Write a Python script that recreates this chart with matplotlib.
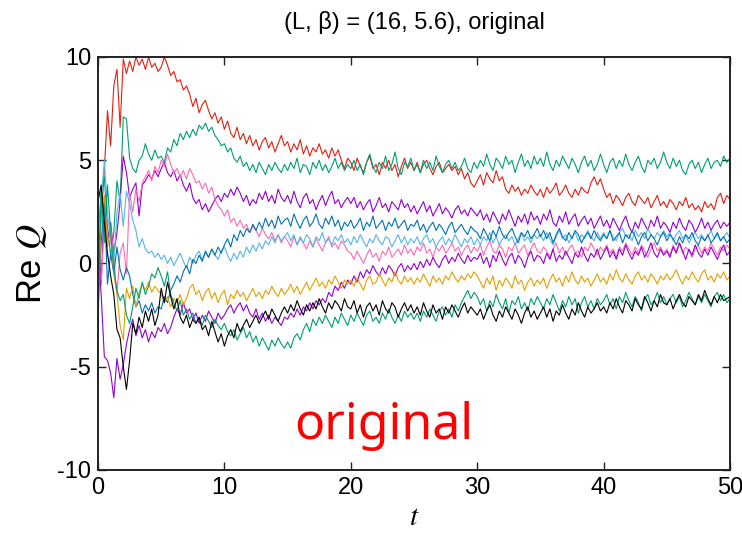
import numpy as np
import matplotlib
matplotlib.use("Agg")
import matplotlib.pyplot as plt

plt.rcParams['font.family'] = ['Liberation Sans', 'DejaVu Sans']
plt.rcParams['mathtext.fontset'] = 'stix'
plt.rcParams['axes.unicode_minus'] = False

title = "(L, \u03b2) = (16, 5.6), original"
x_label = "$t$"
y_label = "Re $Q$"
annotation = "original"
x_ticks = [0, 10, 20, 30, 40, 50]
y_ticks = [-10, -5, 0, 5, 10]

t_start, t_end = 0, 50

red = [0.5, 2.2, 4.5, 7.4, 5.7, 8.6, 9.4, 6.6, 9.9, 9.2, 9.8, 9.3, 10.0, 9.6, 9.9, 9.4, 10.0, 9.5, 9.7, 9.3,
       9.5, 10.0, 9.6, 9.1, 9.3, 8.8, 8.9, 8.4, 8.6, 8.2, 7.6, 8.0, 7.3, 7.7, 7.9, 7.4, 7.0, 7.3, 6.8, 7.1,
       6.5, 6.9, 6.3, 6.1, 6.6, 6.0, 6.3, 5.8, 6.2, 5.7, 6.0, 5.5, 5.9, 6.1, 5.6, 5.9, 5.4, 5.8, 6.2, 5.7,
       5.9, 5.4, 5.8, 5.5, 6.0, 5.3, 5.7, 5.2, 5.6, 5.4, 5.8, 5.3, 5.5, 5.1, 5.6, 5.2, 5.5, 5.0, 4.6, 5.1,
       4.9, 4.5, 5.1, 4.7, 4.4, 4.9, 5.2, 4.6, 4.8, 4.3, 4.9, 4.6, 5.0, 4.5, 4.8, 4.2, 4.7, 5.1, 4.6, 4.9,
       4.5, 4.9, 4.4, 4.8, 5.0, 4.6, 4.3, 4.7, 4.9, 4.4, 4.6, 4.8, 4.5, 4.7, 4.3, 4.6, 4.1, 4.4, 3.9, 3.7,
       4.0, 4.3, 3.8, 4.4, 4.1, 3.9, 4.5, 4.0, 4.2, 3.6, 3.4, 3.8, 3.5, 3.7, 3.3, 3.6, 3.4, 3.8, 3.5, 3.3,
       3.6, 3.2, 3.7, 3.4, 3.6, 3.9, 3.3, 3.5, 3.8, 3.4, 3.2, 3.6, 3.3, 3.7, 3.5, 3.4, 3.9, 4.2, 3.8, 4.1,
       3.6, 3.2, 3.4, 2.9, 3.3, 3.1, 2.8, 3.2, 3.4, 3.0, 2.8, 3.3, 3.1, 2.9, 3.2, 2.7, 3.0, 3.3, 2.8, 3.0,
       2.7, 3.1, 2.9, 2.6, 3.0, 2.8, 3.2, 2.7, 2.9, 2.6, 2.8, 2.5, 3.0, 2.7, 2.9, 2.6, 3.2, 3.4, 2.9, 3.3, 3.1]

green_upper = [1.0, 3.5, 4.2, 1.8, 0.4, 1.5, 4.0, 3.0, 7.1, 7.0, 5.1, 4.6, 4.4, 5.0, 5.2, 5.8, 5.3, 5.0, 5.5, 5.1,
               5.2, 4.9, 5.6, 5.4, 6.0, 5.7, 6.3, 6.0, 6.4, 6.1, 6.5, 6.2, 6.7, 6.5, 6.8, 6.4, 6.6, 6.2, 6.0, 5.7,
               5.8, 5.4, 5.6, 5.1, 4.9, 5.2, 4.7, 4.9, 4.5, 4.8, 4.4, 4.9, 4.6, 4.3, 4.8, 4.5, 4.9, 4.6, 4.4, 4.8,
               4.5, 4.9, 4.6, 5.1, 4.4, 4.8, 4.7, 4.3, 4.9, 4.6, 5.0, 4.5, 4.8, 4.4, 4.7, 5.1, 4.6, 4.9, 4.5, 4.8,
               4.6, 5.0, 4.5, 4.8, 4.3, 4.9, 5.3, 4.7, 4.4, 4.9, 4.6, 5.2, 4.5, 4.8, 5.4, 4.6, 4.3, 4.9, 4.7, 5.1,
               4.5, 4.8, 4.4, 5.0, 4.6, 4.9, 4.5, 5.2, 4.7, 4.4, 4.8, 5.0, 4.6, 4.9, 4.5, 4.7, 5.1, 4.6, 4.4, 4.9,
               4.6, 5.0, 4.7, 5.3, 4.8, 4.5, 5.1, 4.9, 4.6, 5.2, 4.8, 5.0, 4.4, 4.9, 5.3, 4.7, 5.0, 4.6, 5.2, 4.8,
               5.1, 4.7, 5.4, 4.8, 4.5, 5.0, 4.7, 5.2, 4.9, 4.6, 5.1, 4.8, 4.4, 4.9, 5.2, 4.7, 5.0, 4.5, 4.8, 5.3,
               4.8, 4.4, 4.9, 5.1, 4.6, 5.0, 4.7, 5.3, 4.8, 4.5, 4.9, 5.2, 4.7, 4.4, 5.0, 4.8, 5.1, 4.6, 4.9, 5.4,
               4.9, 4.6, 5.1, 4.7, 5.0, 4.5, 4.3, 4.8, 5.0, 4.6, 4.9, 4.4, 4.8, 5.1, 4.6, 4.9, 5.0, 4.7, 5.2, 4.9, 5.1]

purple_upper = [2.0, -1.0, 3.0, 1.0, 2.0, 0.5, 1.5, 3.0, 5.2, 4.4, 3.2, 3.6, 3.9, 2.3, 3.8, 4.0, 4.3, 4.1, 4.5, 4.2,
                4.6, 4.9, 4.4, 4.2, 4.5, 4.0, 4.3, 3.8, 3.5, 3.9, 3.2, 2.9, 3.1, 2.6, 2.9, 2.5, 2.8, 3.1, 3.3, 3.0,
                3.4, 3.2, 3.6, 3.3, 3.7, 3.4, 3.0, 3.3, 2.8, 3.1, 2.9, 3.4, 3.1, 3.5, 3.0, 3.3, 2.9, 3.6, 3.2, 3.0,
                3.3, 2.9, 3.5, 3.0, 2.7, 3.2, 3.4, 2.9, 3.1, 2.6, 3.0, 3.3, 2.8, 3.2, 3.5, 2.9, 3.1, 2.7, 3.0, 3.2,
                2.9, 3.2, 2.7, 3.0, 2.6, 2.9, 3.1, 2.5, 2.8, 3.2, 2.7, 2.9, 2.5, 3.0, 2.8, 2.6, 3.1, 2.7, 2.9, 2.5,
                2.8, 2.4, 2.7, 3.0, 2.5, 2.8, 2.3, 2.6, 2.9, 2.4, 2.7, 2.5, 2.2, 2.6, 2.8, 2.4, 2.6, 2.3, 2.7, 2.5,
                2.3, 2.6, 2.1, 2.4, 2.0, 2.5, 2.2, 1.9, 2.4, 2.1, 2.6, 2.2, 1.8, 2.3, 2.0, 2.4, 1.9, 2.5, 2.1, 2.3,
                1.9, 2.4, 2.1, 2.6, 2.0, 1.8, 2.3, 2.0, 2.5, 1.9, 2.2, 2.4, 1.8, 2.1, 2.3, 1.9, 2.2, 1.7, 2.0, 2.3,
                1.8, 2.1, 1.7, 2.2, 1.9, 1.6, 2.0, 2.3, 1.8, 1.5, 2.0, 1.7, 2.2, 1.9, 1.6, 2.1, 1.8, 2.3, 1.7, 2.0,
                1.8, 1.5, 2.0, 1.7, 2.2, 1.8, 1.6, 2.1, 1.9, 1.5, 1.8, 2.2, 1.7, 2.0, 1.6, 1.9, 2.1, 1.7, 2.0, 1.8, 2.0]

pink = [0.5, -1.0, 2.0, 0.8, 1.8, 0.3, -1.5, 0.5, 1.0, -0.5, 3.4, 2.5, 3.6, 3.0, 3.9, 4.2, 4.5, 4.0, 4.7, 4.4,
        5.0, 4.7, 5.3, 4.8, 4.4, 4.6, 4.2, 4.5, 4.1, 4.6, 4.3, 3.9, 4.0, 3.6, 3.9, 3.4, 3.7, 3.1, 2.8, 2.6,
        2.3, 2.6, 2.0, 2.2, 1.8, 2.1, 1.7, 1.9, 1.5, 1.8, 1.6, 1.3, 1.7, 1.4, 1.2, 1.5, 1.1, 1.4, 1.0, 1.3,
        1.1, 0.8, 1.3, 0.9, 1.2, 1.0, 0.7, 1.1, 0.8, 1.2, 0.9, 0.6, 1.0, 1.3, 0.8, 1.0, 0.7, 1.1, 0.9, 0.6,
        0.5, 0.2, 0.6, 0.3, 0.0, 0.4, 0.7, 0.3, 0.5, 0.1, 0.6, 0.4, 0.8, 0.3, 0.5, 0.7, 0.4, 0.9, 0.5, 0.7,
        0.4, 0.8, 0.6, 1.0, 0.5, 0.7, 0.3, 0.8, 0.6, 0.9, 0.5, 0.7, 1.0, 0.6, 0.8, 0.4, 0.7, 0.9, 0.5, 0.8,
        0.6, 0.9, 0.4, 0.8, 1.1, 0.6, 0.5, 0.9, 0.7, 0.3, 0.8, 0.6, 1.0, 0.5, 0.7, 0.9, 0.4, 0.7, 1.0, 0.6,
        0.5, 0.8, 0.6, 0.3, 0.7, 1.0, 0.5, 0.8, 0.4, 0.7, 0.9, 0.5, 0.6, 0.3, 0.8, 0.6, 1.0, 0.7, 0.4, 0.8,
        0.6, 0.9, 0.5, 0.7, 0.3, 0.8, 0.6, 1.0, 0.7, 0.4, 0.8, 0.5, 0.9, 0.6, 0.3, 0.7, 1.0, 0.6, 0.8, 0.5,
        0.7, 0.4, 0.9, 0.6, 1.0, 0.5, 0.8, 0.6, 0.3, 0.7, 0.9, 0.5, 0.8, 0.6, 1.0, 0.7, 0.4, 0.8, 0.6, 0.9, 0.7]

light_blue = [1.0, 3.0, 5.0, 2.5, 1.1, 0.0, 2.5, 3.4, 1.8, 3.5, 2.9, 2.1, 1.6, 0.8, 1.2, 0.7, 0.5, 0.6, 0.3, 0.5,
              0.2, 0.4, 0.0, 0.3, -0.1, 0.2, 0.5, 0.1, -0.2, 0.3, 0.0, 0.4, 0.6, 0.2, 0.5, 0.3, 0.7, 0.4, 0.2, 0.6,
              0.8, 0.4, 0.1, 0.5, 0.2, 0.6, 0.3, 0.8, 0.5, 0.9, 0.6, 1.0, 0.7, 1.1, 0.9, 1.3, 1.0, 1.4, 1.1, 1.3,
              1.5, 1.1, 1.4, 0.9, 1.3, 1.0, 1.4, 1.2, 0.8, 1.3, 1.1, 1.5, 1.0, 1.2, 0.9, 1.3, 1.1, 1.4, 1.0, 1.2,
              0.9, 1.3, 1.0, 1.4, 1.1, 0.8, 1.2, 1.0, 1.4, 1.1, 0.9, 1.3, 1.2, 0.8, 1.1, 1.4, 1.0, 1.3, 0.9, 1.2,
              1.0, 1.3, 0.9, 1.2, 1.4, 1.0, 1.2, 0.8, 1.1, 1.3, 0.9, 1.2, 1.0, 1.4, 1.1, 0.8, 1.2, 1.0, 1.3, 0.9,
              1.2, 0.9, 1.3, 1.1, 1.5, 1.0, 1.3, 0.9, 1.2, 1.4, 1.1, 1.3, 0.9, 1.2, 1.5, 1.1, 1.3, 1.0, 1.4, 1.2,
              1.4, 1.1, 1.5, 1.2, 0.9, 1.3, 1.6, 1.2, 1.4, 1.0, 1.3, 1.5, 1.1, 1.4, 1.2, 1.6, 1.3, 1.1, 1.5, 1.2,
              1.5, 1.2, 1.6, 1.3, 1.1, 1.5, 1.7, 1.3, 1.4, 1.1, 1.6, 1.3, 1.5, 1.2, 1.7, 1.4, 1.2, 1.5, 1.3, 1.6,
              1.3, 1.5, 1.1, 1.4, 1.6, 1.2, 1.4, 1.0, 1.3, 1.5, 1.2, 1.4, 1.1, 1.3, 1.6, 1.2, 1.4, 1.1, 1.3, 1.5, 1.2]

blue = [-2.0, 1.0, 3.0, -1.0, 0.5, -0.5, 0.8, -0.3, -0.8, -0.2, -0.6, -1.5, -2.1, -1.8, -2.4, -2.0, -2.3, -1.9, -2.4, -2.1,
        -2.2, -1.6, -1.9, -1.3, -1.0, -0.6, -0.9, -0.4, -0.1, -0.5, 0.2, 0.0, 0.4, 0.1, 0.6, 0.3, 0.7, 0.4, 0.8, 0.5,
        0.9, 1.2, 0.8, 1.4, 1.1, 1.6, 1.3, 1.7, 1.5, 1.9, 1.6, 2.0, 1.7, 2.2, 1.8, 2.1, 1.7, 2.3, 1.9, 2.1,
        2.2, 1.8, 2.4, 2.0, 1.7, 2.1, 2.3, 1.8, 2.0, 2.4, 1.9, 1.7, 2.2, 1.9, 2.3, 1.8, 2.1, 1.6, 2.0, 1.8,
        2.1, 1.7, 1.9, 2.2, 1.6, 2.0, 1.8, 2.3, 1.7, 1.9, 2.1, 1.6, 2.0, 1.8, 2.2, 1.7, 1.9, 2.1, 1.6, 1.9,
        1.8, 2.1, 1.6, 1.9, 1.5, 1.8, 2.0, 1.6, 1.9, 1.7, 1.4, 1.8, 2.0, 1.5, 1.7, 1.9, 1.6, 1.4, 1.8, 1.6,
        1.5, 1.2, 1.7, 1.4, 1.1, 1.6, 1.3, 1.8, 1.4, 1.2, 1.5, 1.7, 1.3, 1.0, 1.5, 1.3, 1.6, 1.2, 1.4, 1.7,
        1.3, 1.6, 1.2, 1.5, 1.0, 1.4, 1.7, 1.3, 1.1, 1.5, 1.2, 1.6, 1.4, 1.0, 1.3, 1.5, 1.2, 1.6, 1.3, 1.1,
        1.4, 1.2, 1.6, 1.1, 1.3, 1.5, 1.0, 1.4, 1.2, 1.6, 1.3, 0.9, 1.3, 1.5, 1.1, 1.4, 1.2, 0.9, 1.3, 1.5,
        1.1, 1.4, 1.2, 0.9, 1.3, 1.0, 1.4, 1.2, 1.5, 1.1, 0.9, 1.3, 1.1, 1.4, 1.0, 1.2, 1.5, 1.1, 1.3, 1.0, 1.2]

purple_lower = [0.8, -1.5, -4.5, -4.7, -5.3, -6.5, -4.6, -5.6, -4.9, -3.9, -3.2, -2.7, -3.5, -3.0, -3.6, -3.2, -3.8, -3.3, -3.6, -3.1,
                -3.3, -2.9, -3.4, -3.1, -2.6, -2.2, -2.5, -1.9, -2.4, -2.2, -2.7, -2.4, -2.9, -2.5, -2.8, -2.3, -2.6, -2.9, -2.4, -2.7,
                -2.5, -2.2, -2.0, -2.4, -2.1, -1.9, -2.3, -2.0, -2.4, -2.6, -2.2, -2.7, -2.4, -2.8, -2.5, -2.9, -2.6, -2.8, -3.0, -2.6,
                -2.7, -2.4, -2.6, -2.2, -2.5, -2.1, -2.3, -1.9, -2.2, -1.8, -2.0, -1.7, -1.9, -1.4, -1.6, -1.1, -1.3, -0.9, -1.2, -0.8,
                -1.0, -0.6, -0.9, -0.4, -0.7, -0.3, -0.5, -0.1, -0.4, -0.6, -0.2, -0.5, -0.1, -0.3, -0.6, -0.2, 0.0, -0.4, -0.1, -0.3,
                0.0, -0.3, 0.1, -0.2, 0.2, -0.1, 0.3, 0.0, -0.2, 0.2, 0.4, 0.0, 0.3, 0.1, 0.5, 0.2, 0.0, 0.4, 0.1, 0.3,
                0.2, 0.5, 0.0, 0.3, -0.2, 0.4, 0.1, 0.6, 0.2, -0.1, 0.3, 0.5, 0.0, 0.4, 0.2, -0.2, 0.3, 0.6, 0.1, 0.4,
                0.3, 0.0, 0.5, 0.2, 0.7, 0.1, 0.4, 0.2, 0.6, 0.3, 0.0, 0.5, 0.3, 0.8, 0.4, 0.1, 0.5, 0.3, 0.7, 0.2,
                0.5, 0.8, 0.3, 0.6, 0.2, 0.7, 0.4, 0.9, 0.5, 0.2, 0.6, 0.4, 0.8, 0.3, 0.6, 1.0, 0.5, 0.3, 0.7, 0.4,
                0.6, 0.3, 0.8, 0.5, 1.0, 0.6, 0.2, 0.7, 0.4, 0.9, 0.5, 0.3, 0.7, 0.4, 0.8, 0.5, 0.2, 0.6, 0.9, 0.4, 0.6]

orange = [-3.3, 2.6, 3.3, 1.0, 1.5, -0.5, -1.5, -3.0, -3.7, -1.2, -1.7, -1.1, -2.1, -1.4, -1.0, -1.3, -0.9, -1.4, -1.1, -1.3,
          -1.5, -1.9, -1.6, -2.1, -1.7, -1.9, -1.5, -2.0, -1.7, -1.2, -1.0, -1.5, -1.3, -1.8, -1.4, -1.2, -1.7, -1.4, -1.9, -1.5,
          -1.3, -2.0, -1.5, -1.7, -1.3, -1.6, -1.4, -1.8, -1.5, -1.2, -1.6, -1.4, -1.7, -1.3, -1.5, -1.1, -1.4, -1.6, -1.2, -1.5,
          -1.3, -1.0, -1.4, -1.1, -1.5, -1.2, -0.9, -1.3, -1.0, -0.7, -1.1, -0.9, -1.2, -0.8, -1.0, -0.6, -0.9, -1.2, -0.8, -1.0,
          -0.8, -1.1, -0.7, -1.0, -1.3, -0.8, -0.6, -1.0, -0.9, -0.5, -0.8, -1.1, -0.7, -0.9, -0.4, -0.8, -1.0, -0.6, -0.9, -0.7,
          -1.0, -0.7, -0.9, -0.5, -0.8, -1.1, -0.6, -0.9, -0.7, -1.0, -0.6, -0.8, -0.4, -0.7, -0.9, -0.6, -0.8, -0.5, -0.7, -0.4,
          -0.6, -0.9, -1.2, -0.7, -1.0, -0.6, -1.3, -0.8, -1.1, -0.7, -0.9, -1.2, -0.6, -1.0, -0.8, -1.3, -0.9, -0.7, -1.1, -0.8,
          -1.0, -0.7, -1.2, -0.8, -0.5, -0.9, -0.7, -1.1, -0.6, -0.9, -0.4, -0.8, -1.0, -0.6, -0.9, -0.7, -1.1, -0.8, -0.5, -0.9,
          -0.7, -1.0, -0.5, -0.8, -0.3, -0.7, -0.9, -0.5, -0.8, -1.0, -0.6, -0.4, -0.8, -0.6, -0.9, -0.5, -0.7, -1.0, -0.6, -0.8,
          -0.5, -0.8, -0.6, -0.3, -0.7, -1.0, -0.6, -0.8, -0.4, -0.7, -0.9, -0.5, -0.3, -0.8, -0.6, -0.9, -0.5, -0.7, -0.4, -0.8, -0.6]

green_lower = [-2.8, 3.5, 1.0, 3.8, 1.5, -0.3, -1.3, -1.8, -1.5, -2.5, -2.9, -2.1, -1.2, -1.7, -0.9, -1.5, -1.1, -0.5, -0.7, -0.2,
               -0.6, -1.1, -0.4, -1.5, -1.9, -2.3, -1.8, -2.5, -2.2, -2.7, -2.4, -2.9, -2.6, -3.0, -2.5, -2.8, -3.1, -2.7, -3.0, -3.2,
               -2.9, -3.3, -3.5, -3.2, -3.7, -3.4, -3.1, -3.6, -3.3, -3.8, -3.5, -4.0, -3.6, -3.9, -4.2, -3.7, -4.0, -3.6, -3.9, -4.1,
               -3.8, -4.1, -3.6, -3.4, -3.7, -3.2, -2.9, -3.3, -2.7, -3.0, -2.6, -2.9, -2.5, -2.8, -3.1, -2.6, -2.9, -2.4, -2.7, -3.0,
               -2.5, -2.8, -2.4, -2.7, -3.0, -2.5, -2.3, -2.8, -2.6, -2.9, -2.4, -2.7, -2.2, -2.6, -2.9, -2.5, -2.8, -2.3, -2.6, -2.4,
               -2.7, -2.4, -2.8, -2.3, -2.6, -2.2, -2.5, -2.8, -2.3, -2.1, -2.5, -2.2, -2.6, -2.0, -2.3, -1.9, -1.6, -1.3, -1.7, -1.4,
               -1.6, -2.0, -1.7, -2.3, -1.8, -2.1, -1.5, -1.9, -2.2, -1.7, -2.4, -1.8, -2.0, -1.6, -2.2, -1.9, -2.3, -1.7, -2.0, -1.6,
               -1.9, -2.2, -1.7, -2.0, -1.5, -1.9, -2.3, -1.8, -2.1, -1.6, -2.0, -1.7, -2.4, -1.9, -1.6, -2.1, -1.8, -2.2, -1.7, -2.0,
               -1.8, -1.5, -2.0, -1.7, -2.2, -1.6, -1.9, -1.4, -1.8, -2.1, -1.6, -1.9, -2.3, -1.7, -1.5, -2.0, -1.8, -1.4, -1.9, -1.6,
               -2.0, -1.7, -1.5, -1.9, -1.6, -2.1, -1.8, -1.4, -1.7, -2.0, -1.6, -1.9, -1.5, -1.8, -2.1, -1.6, -1.4, -1.8, -1.5, -1.9, -1.7]

black = [3.0, 3.8, 2.0, 0.5, -0.6, -1.5, -3.2, -3.6, -5.0, -6.1, -4.7, -2.9, -3.4, -2.6, -3.1, -2.3, -2.8, -2.2, -3.0, -2.5,
         -1.2, -1.9, -0.9, -1.6, -2.2, -1.7, -2.6, -2.9, -2.5, -3.1, -2.7, -2.9, -2.6, -3.2, -3.0, -3.5, -2.8, -3.3, -3.8, -3.4,
         -4.0, -3.5, -3.2, -3.6, -2.9, -3.3, -3.0, -2.7, -3.1, -2.8, -2.5, -2.9, -2.6, -2.3, -2.7, -2.2, -2.5, -2.8, -2.4, -2.1,
         -2.4, -2.0, -2.3, -1.8, -2.2, -2.5, -2.0, -2.3, -1.9, -2.2, -1.7, -2.1, -2.4, -1.9, -2.2, -1.8, -2.0, -2.3, -1.7, -2.1,
         -2.2, -1.8, -2.4, -2.0, -2.6, -2.1, -1.9, -2.3, -2.0, -2.5, -1.8, -2.2, -2.4, -1.9, -2.1, -2.6, -2.2, -1.9, -2.3, -2.0,
         -2.4, -2.1, -2.5, -1.9, -2.3, -2.6, -2.0, -2.4, -2.2, -2.7, -2.1, -2.4, -2.0, -2.3, -2.6, -2.2, -1.9, -2.4, -2.1, -2.3,
         -2.5, -2.2, -2.7, -2.3, -2.0, -2.5, -2.8, -2.3, -2.6, -2.1, -2.4, -2.7, -2.2, -2.5, -2.9, -2.4, -2.1, -2.6, -2.3, -2.7,
         -2.4, -2.1, -2.6, -2.2, -2.8, -2.3, -2.5, -2.0, -2.4, -2.7, -2.2, -2.5, -1.9, -2.3, -2.6, -2.1, -2.4, -2.2, -1.9, -2.3,
         -2.1, -2.4, -1.9, -2.2, -1.7, -2.1, -2.4, -1.8, -2.0, -2.3, -1.7, -2.0, -2.2, -1.6, -1.9, -2.3, -1.8, -2.1, -1.5, -1.9,
         -2.0, -1.7, -2.2, -1.8, -1.5, -1.9, -2.1, -1.6, -1.8, -2.0, -1.5, -1.8, -1.3, -1.7, -2.0, -1.6, -1.9, -1.5, -1.8, -1.7, -1.6]

series = [
    (red, "#e51e10"),
    (green_upper, "#009e73"),
    (purple_upper, "#9400d3"),
    (pink, "#ff69b4"),
    (light_blue, "#56b4e9"),
    (blue, "#0072b2"),
    (purple_lower, "#9400d3"),
    (orange, "#e69f00"),
    (green_lower, "#009e73"),
    (black, "#000000"),
]

fig = plt.figure(figsize=(7.42, 5.35), dpi=100)
ax = fig.add_axes([98 / 742, 1 - 470 / 535, (730 - 98) / 742, (470 - 57) / 535])

for values, color in series:
    y = np.asarray(values, dtype=float)
    t = np.linspace(t_start, t_end, len(y))
    ax.plot(t, y, color=color, lw=0.8)

ax.set_xlim(0, 50)
ax.set_ylim(-10, 10)
ax.set_xticks(x_ticks)
ax.set_yticks(y_ticks)
ax.tick_params(direction='in', length=5.5, width=1.0, top=True, right=True,
               labelsize=17, pad=5, colors='#222222', labelcolor='black')
for sp in ax.spines.values():
    sp.set_linewidth(1.4)
    sp.set_color('#222222')

ax.set_title(title, fontsize=17, pad=20)
ax.set_xlabel(x_label, fontsize=21, labelpad=3)
ax.set_ylabel(y_label, fontsize=25)
ax.yaxis.set_label_coords(-0.078, 0.5)

ax.text(0.4525, 0.075, annotation, transform=ax.transAxes, color='#ff0000',
        fontsize=36, family=['Noto Sans', 'DejaVu Sans'], ha='center', va='baseline')

fig.savefig("out.png", dpi=100)
